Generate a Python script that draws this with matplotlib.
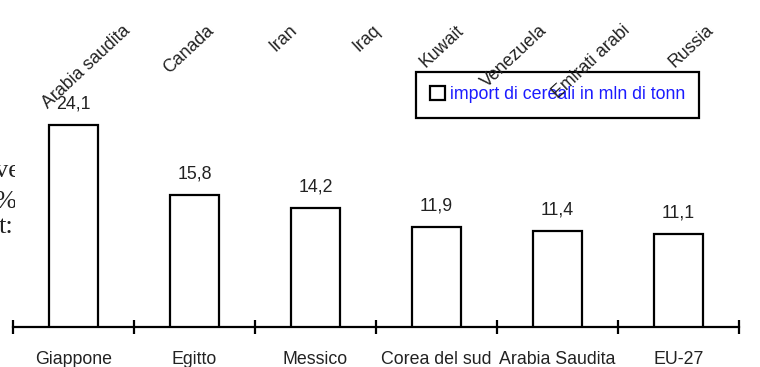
import matplotlib
matplotlib.use("Agg")
import matplotlib.pyplot as plt
import numpy as np
from matplotlib.transforms import Bbox, TransformedBbox

categories = ["Giappone", "Egitto", "Messico", "Corea del sud", "Arabia Saudita", "EU-27"]
values = [24.1, 15.8, 14.2, 11.9, 11.4, 11.1]
value_labels = ["24,1", "15,8", "14,2", "11,9", "11,4", "11,1"]
series_name = "import di cereali in mln di tonn"
top_labels = ["Arabia saudita", "Canada", "Iran", "Iraq", "Kuwait",
              "Venezuela", "Emirati arabi", "Russia"]
side_fragments = ["ve", "%", "t:"]

plt.rcParams['font.family'] = ['Liberation Sans', 'DejaVu Sans']

W, H = 760, 367
FS = 12.8
fig = plt.figure(figsize=(W / 100, H / 100), dpi=100)

ax = fig.add_axes([13 / W, 40 / H, 726 / W, 251.5 / H])
x = np.arange(len(categories))
bars = ax.bar(x, values, width=0.4, facecolor='white', edgecolor='black',
              linewidth=1.6, label=series_name, zorder=3)
ax.set_xlim(-0.5, len(categories) - 0.5)
ax.set_ylim(0, 30)
for s in ['left', 'right', 'top']:
    ax.spines[s].set_visible(False)
ax.spines['bottom'].set_linewidth(1.6)
ax.set_yticks([])
ax.set_xticks(x)
ax.set_xticklabels(categories, fontsize=FS, color='#222222')
ax.tick_params(axis='x', which='major', length=0, pad=17)
ax.set_xticks(np.arange(len(categories) + 1) - 0.5, minor=True)
ax.tick_params(axis='x', which='minor', direction='inout', length=9.5, width=1.6)
ax.patch.set_visible(False)

for xi, v, lab in zip(x, values, value_labels):
    ax.annotate(lab, (xi, v), xytext=(0, 9), textcoords='offset points',
                ha='center', va='bottom', fontsize=FS, color='#222222')

leg = ax.legend(loc='upper left', bbox_to_anchor=(416 / W, 1 - 72 / H),
                bbox_transform=fig.transFigure, frameon=True, fancybox=False,
                edgecolor='black', framealpha=1, borderaxespad=0,
                handlelength=0.85, handleheight=0.85, handletextpad=0.25,
                borderpad=0.8, prop={'size': FS})
leg.get_frame().set_linewidth(1.6)
for t in leg.get_texts():
    t.set_color('#1a1aff')

# rotated labels at top (right-aligned, evenly spaced)
xe = np.linspace(128, 711, len(top_labels))
for xp, lab in zip(xe, top_labels):
    fig.text(xp / W, 1 - 28 / H, lab, rotation=43, rotation_mode='anchor',
             ha='right', va='center', fontsize=FS, color='#222222', zorder=5)

# clipped text fragments on the left edge
clip = TransformedBbox(Bbox.from_extents(0, 0, 15 / W, 1), fig.transFigure)
for frag, xp, yb in zip(side_fragments, [-5, -6, -1], [177, 208, 233]):
    t = fig.text(xp / W, 1 - yb / H, frag, ha='left', va='baseline',
                 family='Liberation Serif', fontsize=19, color='#222222')
    t.set_clip_box(clip)
    t.set_clip_on(True)

fig.savefig("out.png", dpi=100)
